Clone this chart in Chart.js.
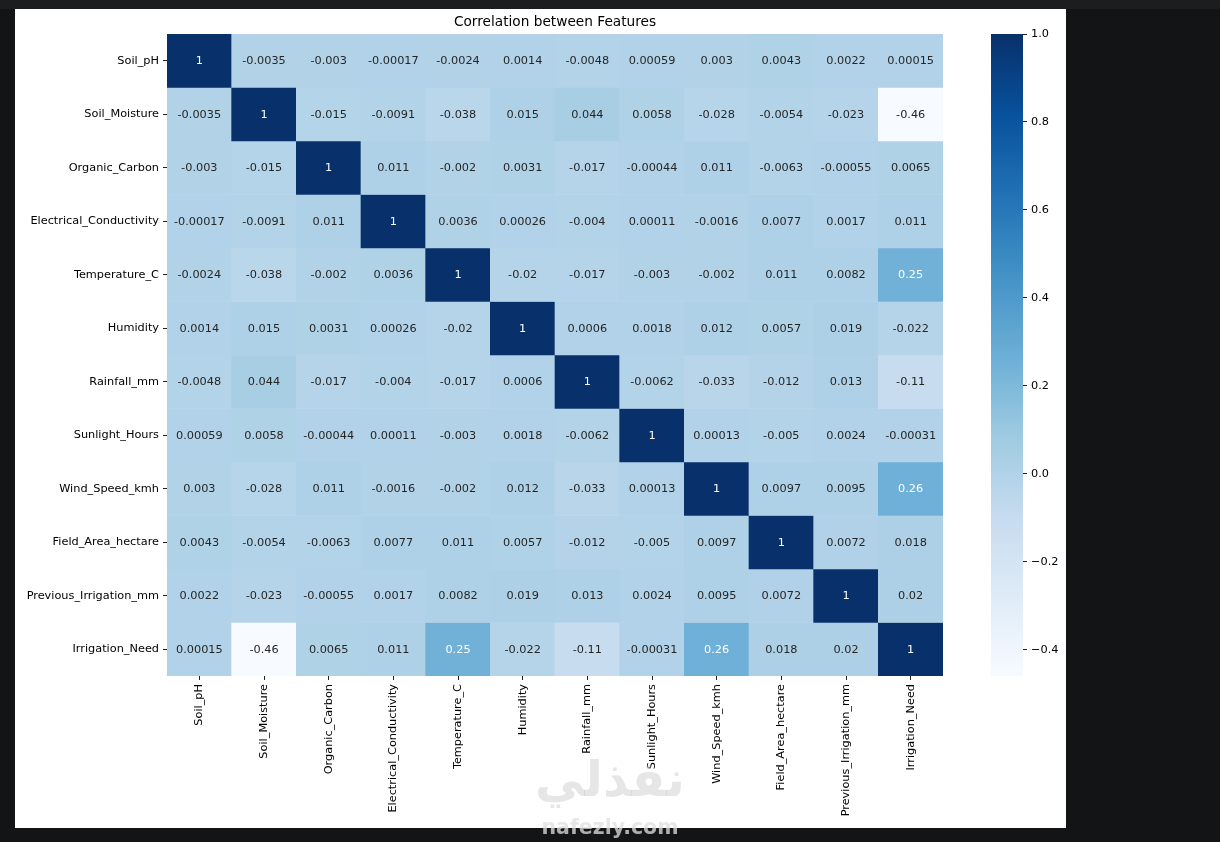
<!DOCTYPE html>
<html>
<head>
<meta charset="utf-8">
<script src="https://cdn.jsdelivr.net/npm/chart.js@4/dist/chart.umd.min.js"></script>
<style>
  html, body { margin: 0; padding: 0; background: #131416; width: 1220px; height: 842px; overflow: hidden; }
  #topstrip { position: absolute; left: 0; top: 0; width: 1220px; height: 9px; background: #1c1d1f; }
  #fig { position: absolute; left: 15px; top: 9px; width: 1051px; height: 819px; background: #ffffff; }
  #main { position: absolute; left: 15px; top: 9px; }
  #cbar { position: absolute; left: 975px; top: 9px; }
  .wm { position: absolute; font-family: 'DejaVu Sans', sans-serif; font-weight: bold; text-align: center; pointer-events: none; z-index: 5; }
  #wm1 { left: 510px; top: 751px; width: 200px; font-size: 49px; color: rgba(200,200,200,0.45); }
  #wm2 { left: 510px; top: 815px; width: 200px; font-size: 20.5px; color: rgba(223,223,223,0.76); }
</style>
</head>
<body>
<div id="topstrip"></div>
<div id="fig"></div>
<canvas id="main" width="960" height="819"></canvas>
<canvas id="cbar" width="91" height="819"></canvas>
<div class="wm" id="wm1">نفذلي</div>
<div class="wm" id="wm2">nafezly.com</div>
<script>
// ---------------- DATA ----------------
const titleText = 'Correlation between Features';
const features = ['Soil_pH','Soil_Moisture','Organic_Carbon','Electrical_Conductivity','Temperature_C','Humidity','Rainfall_mm','Sunlight_Hours','Wind_Speed_kmh','Field_Area_hectare','Previous_Irrigation_mm','Irrigation_Need'];

const rowSoilPH          = [1, -0.0035, -0.003, -0.00017, -0.0024, 0.0014, -0.0048, 0.00059, 0.003, 0.0043, 0.0022, 0.00015];
const rowSoilMoisture    = [-0.0035, 1, -0.015, -0.0091, -0.038, 0.015, 0.044, 0.0058, -0.028, -0.0054, -0.023, -0.46];
const rowOrganicCarbon   = [-0.003, -0.015, 1, 0.011, -0.002, 0.0031, -0.017, -0.00044, 0.011, -0.0063, -0.00055, 0.0065];
const rowElecCond        = [-0.00017, -0.0091, 0.011, 1, 0.0036, 0.00026, -0.004, 0.00011, -0.0016, 0.0077, 0.0017, 0.011];
const rowTemperature     = [-0.0024, -0.038, -0.002, 0.0036, 1, -0.02, -0.017, -0.003, -0.002, 0.011, 0.0082, 0.25];
const rowHumidity        = [0.0014, 0.015, 0.0031, 0.00026, -0.02, 1, 0.0006, 0.0018, 0.012, 0.0057, 0.019, -0.022];
const rowRainfall        = [-0.0048, 0.044, -0.017, -0.004, -0.017, 0.0006, 1, -0.0062, -0.033, -0.012, 0.013, -0.11];
const rowSunlight        = [0.00059, 0.0058, -0.00044, 0.00011, -0.003, 0.0018, -0.0062, 1, 0.00013, -0.005, 0.0024, -0.00031];
const rowWindSpeed       = [0.003, -0.028, 0.011, -0.0016, -0.002, 0.012, -0.033, 0.00013, 1, 0.0097, 0.0095, 0.26];
const rowFieldArea       = [0.0043, -0.0054, -0.0063, 0.0077, 0.011, 0.0057, -0.012, -0.005, 0.0097, 1, 0.0072, 0.018];
const rowPrevIrrigation  = [0.0022, -0.023, -0.00055, 0.0017, 0.0082, 0.019, 0.013, 0.0024, 0.0095, 0.0072, 1, 0.02];
const rowIrrigationNeed  = [0.00015, -0.46, 0.0065, 0.011, 0.25, -0.022, -0.11, -0.00031, 0.26, 0.018, 0.02, 1];

const cbarTicks = [1.0, 0.8, 0.6, 0.4, 0.2, 0.0, -0.2, -0.4];

// ---------------- HELPERS ----------------
const corr = [rowSoilPH, rowSoilMoisture, rowOrganicCarbon, rowElecCond, rowTemperature, rowHumidity,
              rowRainfall, rowSunlight, rowWindSpeed, rowFieldArea, rowPrevIrrigation, rowIrrigationNeed];
const allVals = corr.flat();
const vmin = Math.min(...allVals);
const vmax = Math.max(...allVals);

// matplotlib "Blues"
const blues = ['#f7fbff','#deebf7','#c6dbef','#9ecae1','#6baed6','#4292c6','#2171b5','#08519c','#08306b'];
function hexToRgb(h){ return [parseInt(h.slice(1,3),16), parseInt(h.slice(3,5),16), parseInt(h.slice(5,7),16)]; }
const bluesRgb = blues.map(hexToRgb);
function cmap(t){
  t = Math.max(0, Math.min(1, t));
  const n = bluesRgb.length - 1;
  const p = t * n;
  const i = Math.min(n - 1, Math.floor(p));
  const f = p - i;
  const a = bluesRgb[i], b = bluesRgb[i+1];
  return [0,1,2].map(k => a[k] + (b[k]-a[k]) * f);
}
function rgbStr(c){ return 'rgb(' + c.map(x => Math.round(x)).join(',') + ')'; }
function colorFor(v){ return rgbStr(cmap((v - vmin) / (vmax - vmin))); }
function lum(c){
  const lin = c.map(x => { x = x/255; return x <= 0.03928 ? x/12.92 : Math.pow((x+0.055)/1.055, 2.4); });
  return 0.2126*lin[0] + 0.7152*lin[1] + 0.0722*lin[2];
}
function textColorFor(v){ return lum(cmap((v - vmin) / (vmax - vmin))) < 0.408 ? '#ffffff' : '#262626'; }
function fmt2g(v){ if (v === 0) return '0'; return String(Number(v.toPrecision(2))); }

const FONT = "'DejaVu Sans', sans-serif";
const TICK_FS = 11.3;

// ---------------- MAIN HEATMAP ----------------
const datasets = corr.map((row, r) => ({
  label: features[r],
  data: row.map(() => [r, r + 1]),
  backgroundColor: row.map(v => colorFor(v)),
  borderWidth: 0,
  barPercentage: 1,
  categoryPercentage: 1,
  grouped: false
}));

const annotPlugin = {
  id: 'annot',
  afterDatasetsDraw(chart) {
    const ctx = chart.ctx;
    ctx.save();
    ctx.font = TICK_FS + 'px ' + FONT;
    ctx.textAlign = 'center';
    ctx.textBaseline = 'middle';
    chart.data.datasets.forEach((ds, r) => {
      const meta = chart.getDatasetMeta(r);
      meta.data.forEach((el, c) => {
        const v = corr[r][c];
        const p = el.getProps(['x','y','base'], true);
        ctx.fillStyle = textColorFor(v);
        ctx.fillText(fmt2g(v), p.x, (p.y + p.base) / 2 + 0.5);
      });
    });
    ctx.restore();
  }
};

new Chart(document.getElementById('main'), {
  type: 'bar',
  data: { labels: features, datasets: datasets },
  options: {
    responsive: false,
    animation: false,
    events: [],
    layout: { padding: { left: 0, right: 32, top: 0, bottom: 0 } },
    plugins: {
      legend: { display: false },
      tooltip: { enabled: false },
      title: {
        display: true,
        text: titleText,
        fullSize: false,
        color: '#000',
        font: { family: FONT, size: 13.7, weight: 'normal' },
        padding: { top: 5.5, bottom: 3 }
      }
    },
    scales: {
      x: {
        type: 'category',
        offset: true,
        border: { display: false },
        grid: { drawOnChartArea: false, drawTicks: true, tickLength: 4, color: '#222', offset: false },
        ticks: { autoSkip: false, minRotation: 90, maxRotation: 90, padding: 4, color: '#000', font: { family: FONT, size: TICK_FS } },
        afterFit(scale) { scale.height = 152; }
      },
      y: {
        type: 'linear',
        min: 0,
        max: features.length,
        reverse: true,
        border: { display: false },
        grid: { drawOnChartArea: false, drawTicks: true, tickLength: 4, color: '#222' },
        ticks: {
          autoSkip: false, padding: 4, color: '#000', font: { family: FONT, size: TICK_FS },
          callback: (value) => features[Math.floor(value)]
        },
        afterBuildTicks(scale) { scale.ticks = features.map((f, i) => ({ value: i + 0.5 })); },
        afterFit(scale) { scale.width = 152; }
      }
    }
  },
  plugins: [annotPlugin]
});

// ---------------- COLORBAR ----------------
new Chart(document.getElementById('cbar'), {
  type: 'bar',
  data: {
    labels: [''],
    datasets: [{
      data: [[vmin, vmax]],
      borderWidth: 0,
      barPercentage: 1,
      categoryPercentage: 1,
      backgroundColor: (ctx) => {
        const ca = ctx.chart.chartArea;
        if (!ca) return '#6baed6';
        const g = ctx.chart.ctx.createLinearGradient(0, ca.bottom, 0, ca.top);
        blues.forEach((c, i) => g.addColorStop(i / (blues.length - 1), c));
        return g;
      }
    }]
  },
  options: {
    responsive: false,
    animation: false,
    events: [],
    layout: { padding: { left: 16, right: 0, top: 25, bottom: 152 } },
    plugins: { legend: { display: false }, tooltip: { enabled: false }, title: { display: false } },
    scales: {
      x: { display: false },
      y: {
        type: 'linear',
        position: 'right',
        min: vmin,
        max: vmax,
        border: { display: false },
        grid: { drawOnChartArea: false, drawTicks: true, tickLength: 4, color: '#222' },
        ticks: {
          padding: 4, color: '#000', font: { family: FONT, size: TICK_FS },
          callback: (value) => value.toFixed(1).replace('-', '\u2212')
        },
        afterBuildTicks(scale) { scale.ticks = cbarTicks.map(v => ({ value: v })); },
        afterFit(scale) { scale.width = 43; }
      }
    }
  }
});
</script>
</body>
</html>
